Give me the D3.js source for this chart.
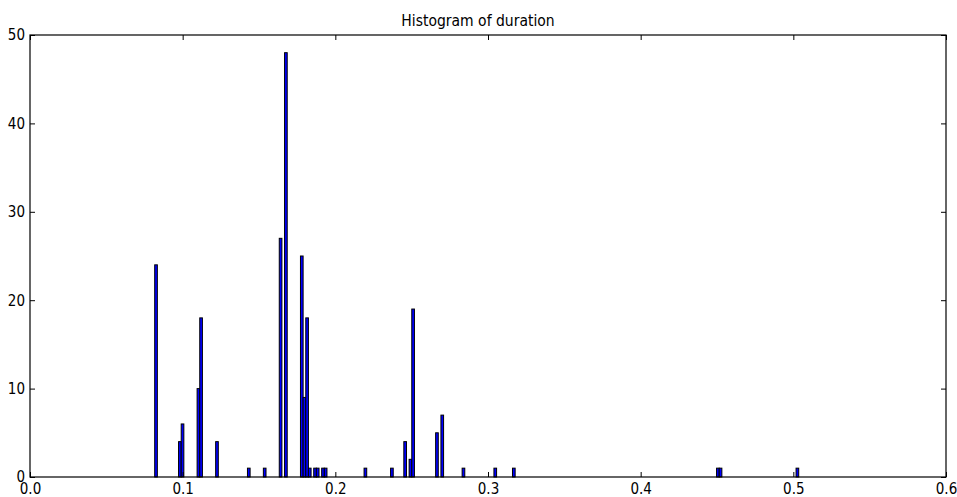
<!DOCTYPE html>
<html>
<head>
<meta charset="utf-8">
<script src="https://cdn.jsdelivr.net/npm/d3@7"></script>
<style>
  body { margin: 0; background: #fff; }
  text { font-family: "DejaVu Sans Condensed", "DejaVu Sans", sans-serif; fill: #000; }
</style>
</head>
<body>
<div id="chart"></div>
<script>
// histogram bins: first bin edge, bin width, then non-empty bins (index, count)
const binStart = 0.08168;
const binWidth = 0.001736;
const binIndex = [0, 9, 10, 16, 17, 23, 35, 41, 47, 49, 55, 56, 57, 58, 60, 61, 63, 64,
                  79, 89, 94, 96, 97, 106, 108, 116, 128, 135, 212, 213, 242];
const binCount = [24, 4, 6, 10, 18, 4, 1, 1, 27, 48, 25, 9, 18, 1, 1, 1, 1, 1,
                  1, 1, 4, 2, 19, 5, 7, 1, 1, 1, 1, 1, 1];
const xTicks = [0.0, 0.1, 0.2, 0.3, 0.4, 0.5, 0.6];
const yTicks = [0, 10, 20, 30, 40, 50];
const chartTitle = "Histogram of duration";

const W = 957, H = 497;
const margin = { top: 35, right: 11, bottom: 20, left: 30 };
const width = W - margin.left - margin.right;
const height = H - margin.top - margin.bottom;

const svg = d3.select("#chart").append("svg")
    .attr("width", W)
    .attr("height", H);

const g = svg.append("g")
    .attr("transform", `translate(${margin.left},${margin.top})`);

const x = d3.scaleLinear().domain([0, 0.6]).range([0, width]);
const y = d3.scaleLinear().domain([0, 50]).range([height, 0]);

const bins = binIndex.map((k, i) => ({
    x0: binStart + k * binWidth,
    x1: binStart + (k + 1) * binWidth,
    count: binCount[i]
}));

// bars
g.selectAll("rect.bar")
    .data(bins)
    .enter()
    .append("rect")
    .attr("class", "bar")
    .attr("x", d => x(d.x0))
    .attr("y", d => y(d.count))
    .attr("width", d => x(d.x1) - x(d.x0))
    .attr("height", d => y(0) - y(d.count))
    .style("fill", "#0000ff")
    .style("stroke", "#000")
    .style("stroke-width", 1);

// axes, ticks pointing inwards on all four sides
const tickLen = 5;
const axBottom = g.append("g")
    .attr("transform", `translate(0,${height})`)
    .call(d3.axisBottom(x).tickValues(xTicks).tickFormat(d3.format(".1f"))
        .tickSizeInner(-tickLen).tickSizeOuter(0).tickPadding(6));
const axTop = g.append("g")
    .call(d3.axisTop(x).tickValues(xTicks).tickFormat("")
        .tickSizeInner(-tickLen).tickSizeOuter(0));
const axLeft = g.append("g")
    .call(d3.axisLeft(y).tickValues(yTicks)
        .tickSizeInner(-tickLen).tickSizeOuter(0).tickPadding(5));
const axRight = g.append("g")
    .attr("transform", `translate(${width},0)`)
    .call(d3.axisRight(y).tickValues(yTicks).tickFormat("")
        .tickSizeInner(-tickLen).tickSizeOuter(0));

[axBottom, axTop, axLeft, axRight].forEach(a => {
    a.select(".domain").remove();
    a.selectAll("line").attr("stroke", "#000");
    a.selectAll("text").style("font-size", "15px");
});

// frame
g.append("rect")
    .attr("x", 0)
    .attr("y", 0)
    .attr("width", width)
    .attr("height", height)
    .style("fill", "none")
    .style("stroke", "#000")
    .style("stroke-width", 1.2);

// title
g.append("text")
    .attr("x", width / 2 - 10)
    .attr("y", -9)
    .attr("text-anchor", "middle")
    .style("font-size", "15.5px")
    .text(chartTitle);
</script>
</body>
</html>
